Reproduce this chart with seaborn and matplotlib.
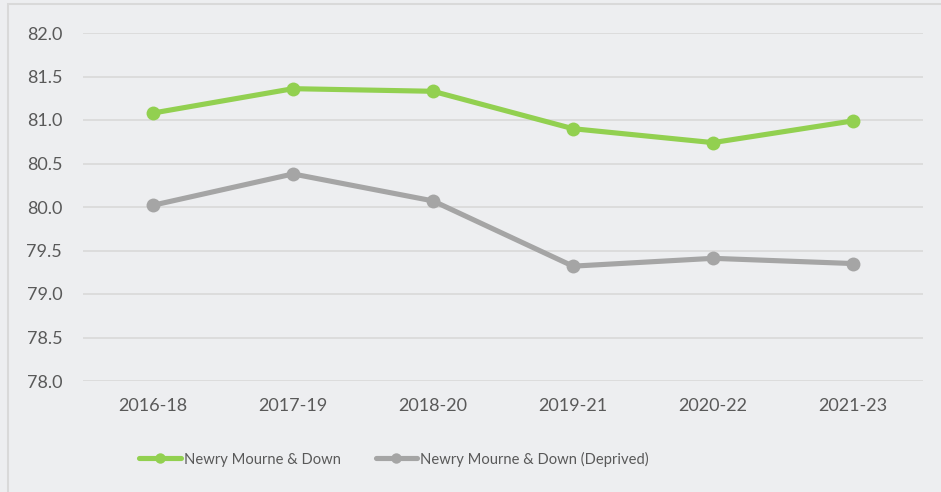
import pandas as pd
import matplotlib.pyplot as plt
import seaborn as sns
from matplotlib.patches import Rectangle

# dados
periodos = ['2016-18', '2017-19', '2018-20', '2019-21', '2020-22', '2021-23']
nmd = [81.08, 81.36, 81.33, 80.90, 80.74, 80.99]
nmd_deprived = [80.02, 80.38, 80.07, 79.32, 79.41, 79.35]
series = ['Newry Mourne & Down', 'Newry Mourne & Down (Deprived)']

fundo = '#EDEEF0'
texto = '#595959'

sns.set_style("whitegrid")
plt.rcParams['font.family'] = ['Lato', 'DejaVu Sans']

dados = pd.DataFrame({
    'periodo': periodos * 2,
    'valor': nmd + nmd_deprived,
    'serie': [series[0]] * len(periodos) + [series[1]] * len(periodos),
})

fig = plt.figure(figsize=(9.41, 4.92), dpi=100, facecolor=fundo)
ax = fig.add_axes([83 / 941, 1 - 381 / 492, 840 / 941, 348 / 492])
ax.set_facecolor(fundo)

sns.lineplot(data=dados, x='periodo', y='valor', hue='serie',
             palette=['#92D050', '#A5A5A5'], linewidth=3.7,
             marker='o', markersize=10, markeredgewidth=0, ax=ax)

ax.set_ylim(78.0, 82.0)
ax.set_yticks([78.0, 78.5, 79.0, 79.5, 80.0, 80.5, 81.0, 81.5, 82.0])
ax.set_yticklabels([f'{v:.1f}' for v in ax.get_yticks()])
ax.set_xlim(-0.5, 5.5)
ax.set_xlabel('')
ax.set_ylabel('')
ax.grid(axis='x', visible=False)
ax.grid(axis='y', color='#D9D9D9', linewidth=1.2)
for s in ax.spines.values():
    s.set_visible(False)
ax.tick_params(axis='both', length=0, labelsize=13, colors=texto)
ax.tick_params(axis='y', pad=15)
ax.tick_params(axis='x', pad=12)

handles, labels = ax.get_legend_handles_labels()
for h in handles:
    h.set_markersize(7.5)
    h.set_linewidth(3.7)
leg = fig.legend(handles, labels, loc='center', bbox_to_anchor=(394 / 941, 1 - 459 / 492),
                 ncol=2, frameon=False, fontsize=10.6, handlelength=2.8,
                 handletextpad=0.2, columnspacing=2.4, borderpad=0)
ax.get_legend().remove()
for t in leg.get_texts():
    t.set_color(texto)

# borda do grafico
fig.patches.append(Rectangle((8 / 941, -0.1), 1.0, 1 - 4 / 492 + 0.1,
                             transform=fig.transFigure, fill=False,
                             edgecolor='#D9D9D9', linewidth=1.5))

plt.savefig('out.png', dpi=100, facecolor=fundo)
